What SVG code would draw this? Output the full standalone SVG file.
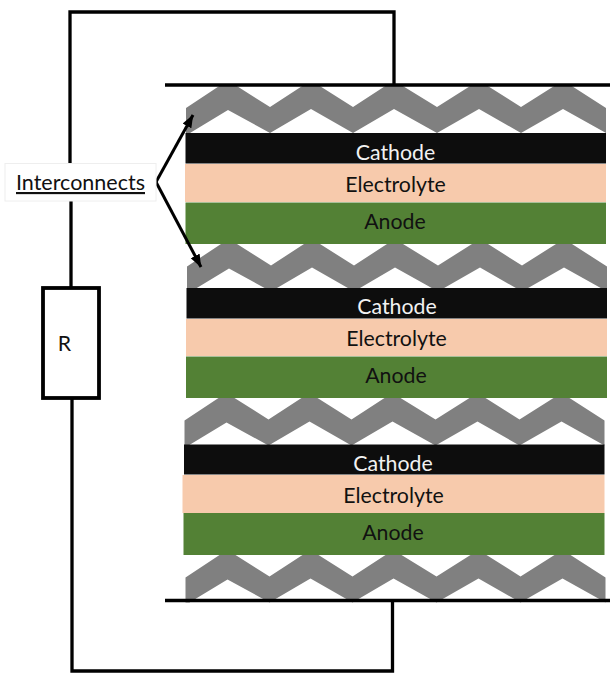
<svg xmlns="http://www.w3.org/2000/svg" width="610" height="673" viewBox="0 0 610 673">
<style>
.wire{fill:none;stroke:#000;stroke-width:3.300}
.arrow{fill:none;stroke:#000;stroke-width:3}
.zig{fill:#808080}
.cat{fill:#0d0d0d}
.ele{fill:#f7caac}
.ano{fill:#538135}
text{font-family:"Lato","Liberation Sans",sans-serif;font-size:21.300px;text-anchor:middle;fill:#111}
.w{fill:#f2f2f2}
</style>
<defs>
<marker id="ah" markerUnits="userSpaceOnUse" markerWidth="13" markerHeight="11" refX="12.500" refY="5.500" orient="auto"><path d="M0,0.500L13,5.500L0,10.500Z" fill="#000"/></marker>
<polygon id="z" points="186,108 220,85.500 236,85.500 270,107 303,85.500 319,85.500 353,107 386,85.500 402,85.500 437,107 471,85.500 487,85.500 521,107 555,85.500 571,85.500 606,108 606,133 563,109 521,133 479,109 437,133 394,109 353,133 311,109 270,133 228,110 190,133 186,133"/>
</defs>
<rect width="610" height="673" fill="#fff"/>
<g id="interconnect-layers">
<use href="#z" class="zig"/>
<use href="#z" class="zig" x="1" y="158.500"/>
<use href="#z" class="zig" x="-1.500" y="312.500"/>
<use href="#z" class="zig" x="-0.500" y="469.500"/>
</g>
<g id="cell-1">
<rect class="cat" x="185.500" y="133" width="420.500" height="30.500"/>
<rect class="ele" x="185" y="164" width="421" height="38"/>
<rect class="ano" x="185.500" y="202.500" width="420.500" height="41.500"/>
<text class="w" x="395.500" y="159.500">Cathode</text>
<text x="395.500" y="191.500">Electrolyte</text>
<text x="395" y="228.500">Anode</text>
</g>
<g id="cell-2">
<rect class="cat" x="186.500" y="288" width="420.500" height="30.500"/>
<rect class="ele" x="186" y="319" width="421" height="37"/>
<rect class="ano" x="186" y="356.500" width="421" height="41.500"/>
<text class="w" x="397" y="313.500">Cathode</text>
<text x="396.500" y="345.500">Electrolyte</text>
<text x="396" y="382.500">Anode</text>
</g>
<g id="cell-3">
<rect class="cat" x="184" y="444.500" width="420.500" height="30"/>
<rect class="ele" x="182.500" y="475" width="422" height="38"/>
<rect class="ano" x="183.500" y="513" width="421" height="42"/>
<text class="w" x="393" y="470.500">Cathode</text>
<text x="393.500" y="502.500">Electrolyte</text>
<text x="393" y="539.500">Anode</text>
</g>
<g id="connectors">
<path class="wire" d="M70,163V12H394V85"/>
<path class="wire" d="M165,85H610"/>
<path class="wire" d="M165,600.500H610"/>
<path class="wire" d="M392.500,600V671H72V398"/>
<path class="wire" d="M71,201V288"/>
<path class="arrow" d="M156,182L193,115" marker-end="url(#ah)"/>
<path class="arrow" d="M156,182L201,267" marker-end="url(#ah)"/>
</g>
<g id="resistor">
<rect x="43" y="288" width="56" height="110" fill="#fff" stroke="#000" stroke-width="3.800"/>
<text x="64.500" y="351">R</text>
</g>
<g id="interconnects-label">
<rect x="5" y="163.500" width="151" height="37.500" fill="#fff" stroke="#eee" stroke-width="1"/>
<text x="80.500" y="190" style="font-size:21.500px" text-decoration="underline">Interconnects</text>
</g>
</svg>
